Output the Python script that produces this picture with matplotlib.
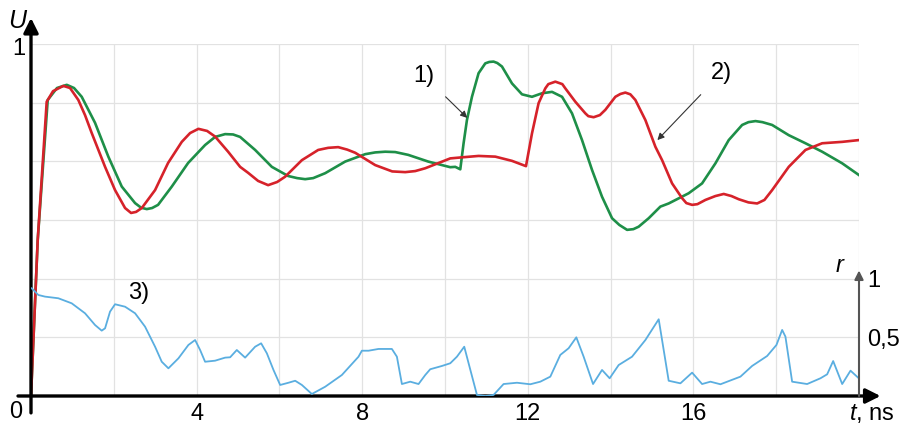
import numpy as np
import matplotlib
matplotlib.use("Agg")
import matplotlib.pyplot as plt

plt.rcParams['font.family'] = ['Liberation Sans', 'DejaVu Sans']
plt.rcParams['mathtext.fontset'] = 'custom'
plt.rcParams['mathtext.it'] = 'Liberation Sans:italic'
plt.rcParams['mathtext.rm'] = 'Liberation Sans'

# ---- data (t in ns) ----
t_red = [0, 0.162, 0.379, 0.532, 0.781, 0.943, 1.143, 1.305, 1.467, 1.789, 2.030, 2.272,
         2.417, 2.538, 2.676, 2.997, 3.311, 3.642, 3.843, 4.044, 4.254, 4.447, 4.761,
         5.051, 5.245, 5.486, 5.728, 5.946, 6.139, 6.543, 6.937, 7.178, 7.420, 7.637,
         7.831, 8.314, 8.725, 9.039, 9.281, 9.523, 10.127, 10.410, 10.811, 11.215, 11.618,
         11.956, 12.101, 12.261, 12.423, 12.496, 12.665, 12.834, 12.906, 13.148, 13.390,
         13.462, 13.590, 13.741, 13.873, 14.115, 14.236, 14.356, 14.477, 14.598, 14.840,
         15.082, 15.244, 15.485, 15.727, 15.830, 15.969, 16.097, 16.290, 16.530, 16.732,
         16.920, 17.095, 17.330, 17.540, 17.716, 17.902, 18.303, 18.707, 19.110, 19.594,
         19.995]
u_red = [0, 0.443, 0.836, 0.866, 0.881, 0.875, 0.841, 0.798, 0.747, 0.651, 0.585, 0.534,
         0.520, 0.523, 0.534, 0.585, 0.662, 0.722, 0.747, 0.759, 0.753, 0.737, 0.694,
         0.651, 0.634, 0.611, 0.599, 0.608, 0.623, 0.670, 0.699, 0.705, 0.707, 0.700,
         0.691, 0.656, 0.638, 0.636, 0.639, 0.647, 0.675, 0.678, 0.682, 0.680, 0.668,
         0.653, 0.746, 0.832, 0.874, 0.886, 0.893, 0.886, 0.874, 0.836, 0.803,
         0.795, 0.792, 0.798, 0.813, 0.850, 0.858, 0.862, 0.857, 0.841, 0.784,
         0.708, 0.670, 0.604, 0.562, 0.548, 0.543, 0.545, 0.557, 0.568, 0.574,
         0.568, 0.559, 0.550, 0.547, 0.557, 0.585, 0.651, 0.699, 0.718, 0.722,
         0.727]

t_green = [0, 0.162, 0.404, 0.628, 0.863, 1.039, 1.225, 1.547, 1.868, 2.192, 2.514, 2.659,
           2.796, 2.925, 3.069, 3.401, 3.795, 4.205, 4.447, 4.689, 4.882, 5.051, 5.414,
           5.817, 6.211, 6.429, 6.622, 6.816, 7.106, 7.589, 8.073, 8.314, 8.556, 8.797,
           9.112, 9.595, 10.127, 10.248, 10.369, 10.449, 10.530, 10.651, 10.811, 10.973,
           11.069, 11.173, 11.263, 11.376, 11.618, 11.860, 12.101, 12.343, 12.585, 12.827,
           13.068, 13.310, 13.552, 13.793, 14.035, 14.211, 14.398, 14.550, 14.678, 14.920,
           15.202, 15.403, 15.886, 16.210, 16.532, 16.853, 17.177, 17.330, 17.499, 17.668,
           17.902, 18.303, 18.707, 19.110, 19.594, 19.995]
u_green = [0, 0.443, 0.841, 0.875, 0.884, 0.875, 0.850, 0.776, 0.680, 0.595, 0.548, 0.535,
           0.531, 0.534, 0.543, 0.595, 0.662, 0.713, 0.736, 0.744, 0.743, 0.736, 0.699,
           0.651, 0.625, 0.619, 0.616, 0.619, 0.633, 0.666, 0.687, 0.692, 0.694, 0.693,
           0.685, 0.666, 0.650, 0.651, 0.644, 0.718, 0.784, 0.850, 0.917, 0.945,
           0.949, 0.950, 0.946, 0.936, 0.888, 0.857, 0.850, 0.860, 0.864, 0.850,
           0.803, 0.727, 0.642, 0.566, 0.505, 0.486, 0.472, 0.474, 0.481, 0.505,
           0.538, 0.547, 0.576, 0.604, 0.661, 0.727, 0.770, 0.778, 0.781, 0.778,
           0.770, 0.741, 0.718, 0.694, 0.661, 0.628]

t_r = [0.017, 0.177, 0.338, 0.660, 0.983, 1.305, 1.547, 1.708, 1.789, 1.909, 2.030, 2.272,
       2.514, 2.755, 2.997, 3.158, 3.319, 3.561, 3.802, 3.964, 4.085, 4.205, 4.447, 4.689,
       4.810, 4.971, 5.172, 5.414, 5.559, 5.697, 5.857, 6.018, 6.219, 6.381, 6.543, 6.784,
       7.106, 7.509, 7.911, 7.992, 8.153, 8.394, 8.717, 8.838, 8.959, 9.160, 9.361, 9.523,
       9.643, 9.926, 10.127, 10.288, 10.465, 10.570, 10.772, 10.973, 11.173, 11.415,
       11.738, 12.060, 12.302, 12.544, 12.785, 12.986, 13.172, 13.349, 13.576, 13.793,
       13.977, 14.195, 14.518, 14.840, 15.162, 15.403, 15.686, 15.969, 16.210, 16.411,
       16.653, 17.136, 17.418, 17.781, 18.006, 18.144, 18.223, 18.385, 18.747, 19.069,
       19.231, 19.376, 19.594, 19.795, 19.995]
r_val = [0.918, 0.861, 0.847, 0.833, 0.790, 0.705, 0.605, 0.557, 0.577, 0.719, 0.782, 0.761,
         0.705, 0.591, 0.420, 0.292, 0.236, 0.321, 0.435, 0.477, 0.392, 0.292, 0.301, 0.327,
         0.330, 0.392, 0.327, 0.420, 0.449, 0.364, 0.222, 0.094, 0.113, 0.130, 0.094, 0.017,
         0.079, 0.179, 0.335, 0.386, 0.386, 0.401, 0.401, 0.335, 0.102, 0.122, 0.102, 0.179,
         0.228, 0.256, 0.279, 0.335, 0.420, 0.279, 0.009, 0.0, 0.009, 0.102,
         0.113, 0.100, 0.122, 0.165, 0.350, 0.407, 0.500, 0.335, 0.102, 0.222,
         0.151, 0.264, 0.335, 0.477, 0.654, 0.130, 0.108, 0.199, 0.102, 0.122,
         0.100, 0.165, 0.256, 0.341, 0.435, 0.563, 0.506, 0.122, 0.102, 0.151,
         0.185, 0.298, 0.102, 0.216, 0.151]

x_ticks = [0, 2, 4, 6, 8, 10, 12, 14, 16, 18, 20]
x_tick_labels = ['', '', '4', '', '8', '', '12', '', '16', '', '']
u_grid = [0, 1/6, 2/6, 3/6, 4/6, 5/6, 1]
r_ticks = [0.5, 1]
r_tick_labels = ['0,5', '1']

GREEN = '#1e8f48'
RED = '#d6222a'
BLUE = '#5aaee0'
FS = 17

fig = plt.figure(figsize=(9.03, 4.26), dpi=100)
ax = fig.add_axes([31/903, 30/426, 828/903, 352/426])
ax.set_xlim(0, 20)
ax.set_ylim(0, 1)
for s in ax.spines.values():
    s.set_visible(False)
ax.set_xticks(x_ticks)
ax.set_xticklabels(x_tick_labels)
ax.set_yticks(u_grid)
ax.set_yticklabels([''] * len(u_grid))
ax.tick_params(length=0, pad=5, labelsize=FS)
ax.grid(True, color='#e2e2e2', lw=0.9)
ax.set_axisbelow(True)

ax.plot(t_green, u_green, color=GREEN, lw=1.9, solid_joinstyle='round', zorder=3)
ax.plot(t_red, u_red, color=RED, lw=1.9, solid_joinstyle='round', zorder=4)

ax2 = ax.twinx()
ax2.set_ylim(0, 3)
for s in ax2.spines.values():
    s.set_visible(False)
ax2.set_yticks(r_ticks)
ax2.set_yticklabels(r_tick_labels)
ax2.tick_params(length=0, pad=6, labelsize=FS)
ax2.plot(t_r, r_val, color=BLUE, lw=1.3, solid_joinstyle='round', zorder=3)

# axes arrows
ax.annotate('', xy=(0, 1.074), xytext=(0, -0.048), xycoords='data',
            arrowprops=dict(arrowstyle='-|>', color='black', lw=2.4, mutation_scale=22,
                            shrinkA=0, shrinkB=0), annotation_clip=False, zorder=6)
ax.annotate('', xy=(20.52, 0), xytext=(-0.314, 0), xycoords='data',
            arrowprops=dict(arrowstyle='-|>', color='black', lw=2.4, mutation_scale=22,
                            shrinkA=0, shrinkB=0), annotation_clip=False, zorder=6)
ax2.annotate('', xy=(20, 1.07), xytext=(20, 0), xycoords='data',
             arrowprops=dict(arrowstyle='-|>', color='#555555', lw=1.5, mutation_scale=13,
                             shrinkA=0, shrinkB=0), annotation_clip=False, zorder=6)

# axis labels
ax.text(-0.34, 1.065, 'U', fontsize=FS + 1, style='italic', ha='center', va='center')
ax.text(-0.29, 0.986, '1', fontsize=FS, ha='center', va='center')
ax.text(-0.36, -0.045, '0', fontsize=FS, ha='center', va='center')
ax.text(20.30, -0.051, r'$t$, ns', fontsize=FS, ha='center', va='center')
ax.text(19.52, 0.372, 'r', fontsize=FS, style='italic', ha='center', va='center')

# curve labels
ax.annotate('1)', xy=(10.538, 0.790), xytext=(9.50, 0.909), fontsize=FS,
            ha='center', va='center',
            arrowprops=dict(arrowstyle='-|>', color='#333333', lw=0.8, mutation_scale=10,
                            shrinkA=8, shrinkB=0))
ax.annotate('2)', xy=(15.13, 0.727), xytext=(16.68, 0.918), fontsize=FS,
            ha='center', va='center',
            arrowprops=dict(arrowstyle='-|>', color='#333333', lw=0.8, mutation_scale=10,
                            shrinkA=8, shrinkB=0))
ax.text(2.61, 0.293, '3)', fontsize=FS, ha='center', va='center')

fig.savefig('out.png', dpi=100)
